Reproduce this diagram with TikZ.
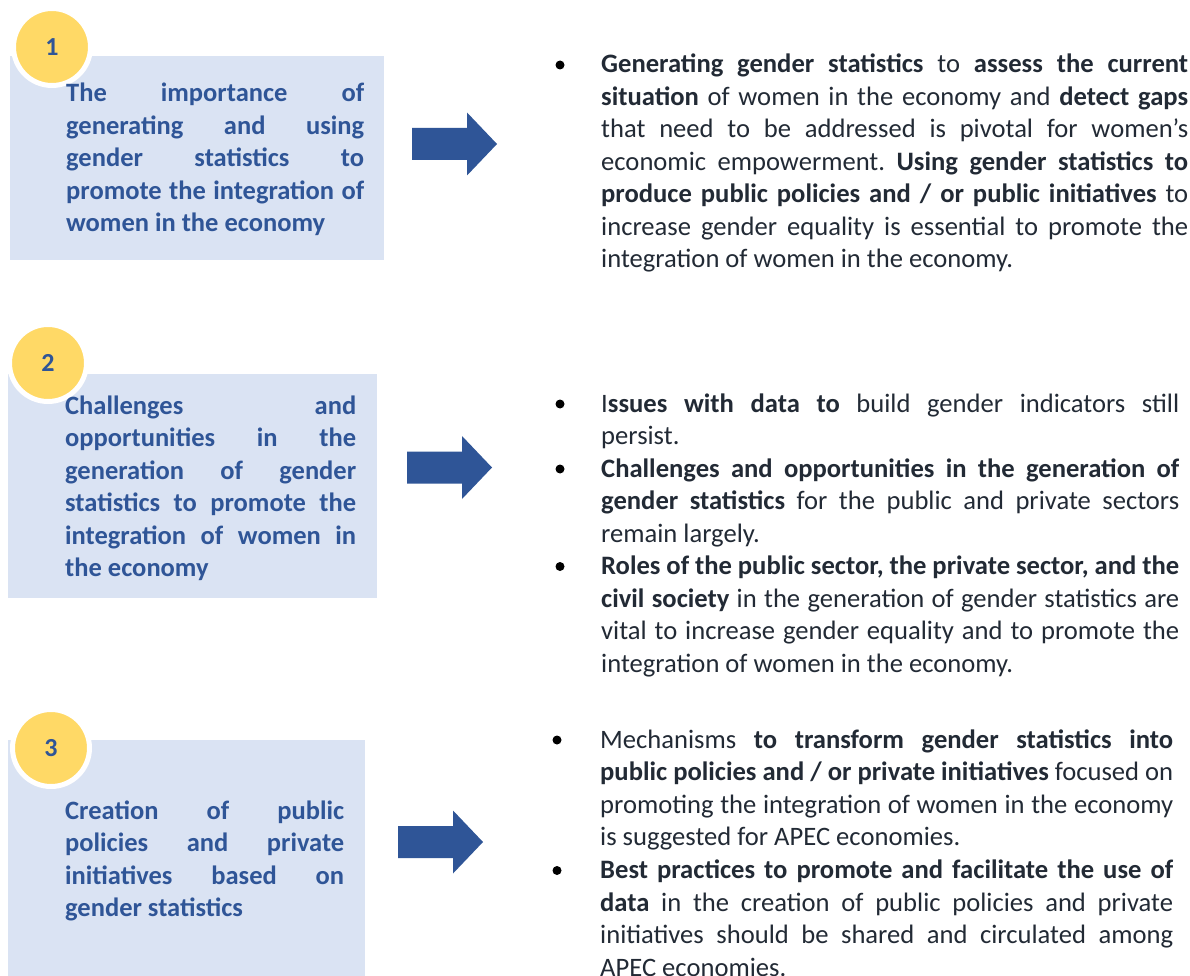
\documentclass[tikz,border=0pt]{standalone}
\usepackage{fontspec}
\setmainfont{Carlito}
\definecolor{boxfill}{HTML}{DAE3F3}
\definecolor{circfill}{HTML}{FFD966}
\definecolor{lblue}{HTML}{2F5597}
\definecolor{dtext}{HTML}{222A35}
\definecolor{arrowc}{HTML}{2F5597}
\newcommand\jl[1]{\hbox to \hsize{#1}}
\newcommand\el[1]{\hbox{#1}}
\newcommand\lines[2]{\vtop{\hsize=#1\relax #2}}
\tikzset{
  boxbg/.style={fill=boxfill, inner sep=0pt, anchor=north west},
  numcirc/.style={circle, fill=circfill, draw=white, line width=5pt, minimum size=77pt, inner sep=0pt, text=lblue, font=\fontsize{26}{32.5}\selectfont\bfseries},
  ltxt/.style={anchor=base west, inner sep=0pt, text=lblue, font=\fontsize{26.5}{32.5}\selectfont\bfseries},
  rtxt/.style={anchor=base west, inner sep=0pt, text=dtext, font=\fontsize{26.6}{32.5}\selectfont},
  bulletdot/.style={circle, fill=black, minimum size=9pt, inner sep=0pt},
  blockarrow/.pic={\fill[arrowc] (0,-16) -- (55,-16) -- (55,-31.5) -- (85,0) -- (55,31.5) -- (55,16) -- (0,16) -- cycle;}
}
\begin{document}
\begin{tikzpicture}[x=1pt, y=-1pt]
\useasboundingbox (0,0) rectangle (1190,976);
\clip (0,0) rectangle (1190,976);
\fill[white] (0,0) rectangle (1190,976);

% ---- row 1
\node[boxbg, minimum width=374pt, minimum height=204pt] (b1) at (10,56) {};
\node[numcirc] (c1) at (52,47) {1};
\node[ltxt] (l1) at (66,102) {\lines{298pt}{\jl{The importance of}\jl{generating and using}\jl{gender statistics to}\jl{promote the integration of}\el{women in the economy}}};
\pic (a1) at (412,144) {blockarrow};
\node[bulletdot] (d1) at (560,65) {};
\node[rtxt] (r1) at (601,73) {\lines{587pt}{\jl{\textbf{Generating gender statistics} to \textbf{assess the current}}\jl{\textbf{situation} of women in the economy and \textbf{detect gaps}}\jl{that need to be addressed is pivotal for women’s}\jl{economic empowerment.\ \textbf{Using gender statistics to}}\jl{\textbf{produce public policies and / or public initiatives} to}\jl{increase gender equality is essential to promote the}\el{integration of women in the economy.}}};

% ---- row 2
\node[boxbg, minimum width=369pt, minimum height=224pt] (b2) at (8,374) {};
\node[numcirc] (c2) at (48,363) {2};
\node[ltxt] (l2) at (65,414) {\lines{291pt}{\jl{Challenges and}\jl{opportunities in the}\jl{generation of gender}\jl{statistics to promote the}\jl{integration of women in}\el{the economy}}};
\pic (a2) at (407,467.5) {blockarrow};
\node[bulletdot] (d2a) at (560,404) {};
\node[rtxt] (r2a) at (601,412) {\lines{578pt}{\jl{I\textbf{ssues with data to} build gender indicators still}\el{persist.}}};
\node[bulletdot] (d2b) at (560,469) {};
\node[rtxt] (r2b) at (601,477) {\lines{578pt}{\jl{\textbf{Challenges and opportunities in the generation of}}\jl{\textbf{gender statistics} for the public and private sectors}\el{remain largely.}}};
\node[bulletdot] (d2c) at (560,566.5) {};
\node[rtxt] (r2c) at (601,574.5) {\lines{578pt}{\jl{\textbf{Roles of the public sector, the private sector, and the}}\jl{\textbf{civil society} in the generation of gender statistics are}\jl{vital to increase gender equality and to promote the}\el{integration of women in the economy.}}};

% ---- row 3
\node[boxbg, minimum width=357pt, minimum height=240pt] (b3) at (8,740) {};
\node[numcirc] (c3) at (51,748) {3};
\node[ltxt] (l3) at (65,819) {\lines{279pt}{\jl{Creation of public}\jl{policies and private}\jl{initiatives based on}\el{gender statistics}}};
\pic (a3) at (398,842) {blockarrow};
\node[bulletdot] (d3a) at (557,740) {};
\node[rtxt] (r3a) at (600,748) {\lines{573pt}{\jl{Mechanisms \textbf{to transform gender statistics into}}\jl{\textbf{public policies and / or private initiatives} focused on}\jl{promoting the integration of women in the economy}\el{is suggested for APEC economies.}}};
\node[bulletdot] (d3b) at (557,870.5) {};
\node[rtxt] (r3b) at (600,878.5) {\lines{573pt}{\jl{\textbf{Best practices to promote and facilitate the use of}}\jl{\textbf{data} in the creation of public policies and private}\jl{initiatives should be shared and circulated among}\el{APEC economies.}}};
\end{tikzpicture}
\end{document}
